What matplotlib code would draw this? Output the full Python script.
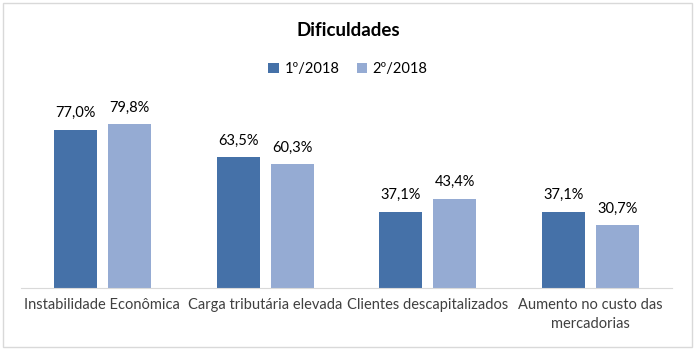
import numpy as np
import matplotlib.pyplot as plt
from matplotlib.patches import Rectangle

categories = ["Instabilidade Econômica", "Carga tributária elevada",
              "Clientes descapitalizados", "Aumento no custo das\nmercadorias"]
series_names = ["1º/2018", "2º/2018"]
s1 = [77.0, 63.5, 37.1, 37.1]
s2 = [79.8, 60.3, 43.4, 30.7]
colors = ["#4571A8", "#95ABD3"]

plt.rcParams['font.family'] = ['Lato', 'DejaVu Sans']

W, H = 696, 356
fig = plt.figure(figsize=(W / 100, H / 100), dpi=100)

# chart border
fig.patches.append(Rectangle((3 / W, 1 - 347 / H), (692 - 3) / W, (347 - 3) / H,
                             transform=fig.transFigure, fill=False,
                             edgecolor="#D9D9D9", linewidth=1))

ax = fig.add_axes([21 / W, 1 - 288 / H, (672 - 21) / W, (288 - 103) / H])
x = np.arange(len(categories))
off = 0.166
bw = 0.264
b1 = ax.bar(x - off, s1, bw, color=colors[0], label=series_names[0])
b2 = ax.bar(x + off, s2, bw, color=colors[1], label=series_names[1])

for bars, vals in [(b1, s1), (b2, s2)]:
    for b, v in zip(bars, vals):
        ax.text(b.get_x() + b.get_width() / 2, v + 4.6,
                f"{v:.1f}%".replace(".", ","), ha="center", va="bottom",
                fontsize=10.5, color="#000000")

ax.set_xlim(-0.5, 3.5)
ax.set_ylim(0, 90)
ax.set_xticks(x)
ax.set_xticklabels(categories, fontsize=10.5, color="#404040", linespacing=1.45)
ax.tick_params(axis="x", length=0, pad=7)
ax.set_yticks([])
for s in ["top", "left", "right"]:
    ax.spines[s].set_visible(False)
ax.spines["bottom"].set_color("#D9D9D9")

fig.text(348 / W, 1 - 30 / H, "Dificuldades", ha="center", va="center",
         fontsize=13.5, fontweight="bold")
fig.legend(loc="center", bbox_to_anchor=(348 / W, 1 - 69 / H), ncol=2,
           frameon=False, fontsize=10.5, handlelength=0.7, handleheight=0.7,
           columnspacing=1.2, handletextpad=0.4)

fig.savefig("out.png", dpi=100)
